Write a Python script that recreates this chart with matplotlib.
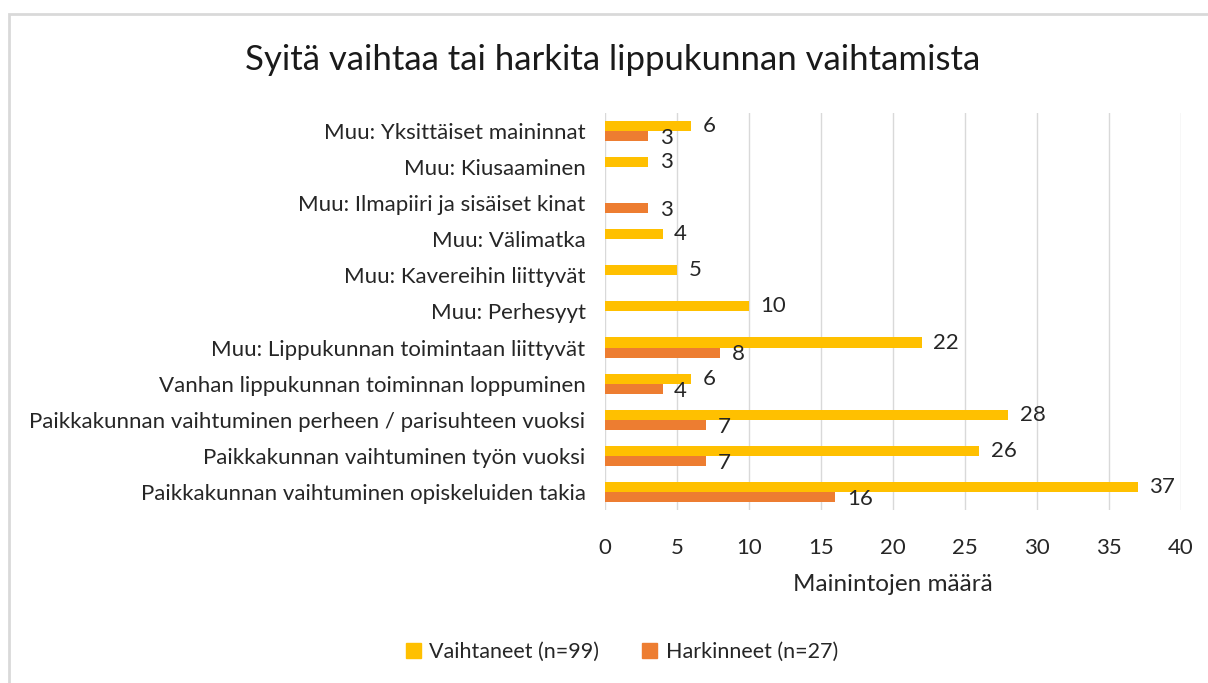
import matplotlib.pyplot as plt
import matplotlib.patches as mpatches
import numpy as np

plt.rcParams['font.family'] = ['Lato', 'DejaVu Sans']

categories = ['Muu: Yksittäiset maininnat',
              'Muu: Kiusaaminen',
              'Muu: Ilmapiiri ja sisäiset kinat',
              'Muu: Välimatka',
              'Muu: Kavereihin liittyvät',
              'Muu: Perhesyyt',
              'Muu: Lippukunnan toimintaan liittyvät',
              'Vanhan lippukunnan toiminnan loppuminen',
              'Paikkakunnan vaihtuminen perheen / parisuhteen vuoksi',
              'Paikkakunnan vaihtuminen työn vuoksi',
              'Paikkakunnan vaihtuminen opiskeluiden takia']
vaihtaneet = [6, 3, None, 4, 5, 10, 22, 6, 28, 26, 37]
harkinneet = [3, None, 3, None, None, None, 8, 4, 7, 7, 16]
xticks = [0, 5, 10, 15, 20, 25, 30, 35, 40]

yellow = '#FFC000'
orange = '#ED7D31'
txt = '#262626'

fig = plt.figure(figsize=(12.08, 6.83), dpi=100)
ax = fig.add_axes([0.5008, 0.2533, 0.4769, 0.5813])

n = len(categories)
ypos = np.arange(n)[::-1]
h = 0.28
v1 = np.array([np.nan if v is None else v for v in vaihtaneet], dtype=float)
v2 = np.array([np.nan if v is None else v for v in harkinneet], dtype=float)
ax.barh(ypos + h / 2, np.nan_to_num(v1), height=h, color=yellow, zorder=3)
ax.barh(ypos - h / 2, np.nan_to_num(v2), height=h, color=orange, zorder=3)

for y, a, b in zip(ypos, v1, v2):
    if not np.isnan(a):
        ax.text(a + 0.8, y + h / 2, '%d' % a, ha='left', va='center', fontsize=16, color=txt)
    if not np.isnan(b):
        ax.text(b + 0.8, y - h / 2 - 0.05, '%d' % b, ha='left', va='center', fontsize=16, color=txt)

ax.set_xlim(0, 40)
ax.set_ylim(-0.5, n - 0.5)
ax.set_xticks(xticks)
ax.set_yticks(ypos)
ax.set_yticklabels(categories)
ax.tick_params(axis='both', length=0, labelsize=16, labelcolor=txt)
ax.tick_params(axis='y', pad=14)
ax.tick_params(axis='x', pad=20)
ax.grid(axis='x', color='#D9D9D9', lw=1, zorder=0)
for s in ax.spines.values():
    s.set_visible(False)
ax.set_xlabel('Mainintojen määrä', fontsize=17.5, color=txt, labelpad=12)

fig.text(0.5075, 1 - 60 / 683, 'Syitä vaihtaa tai harkita lippukunnan vaihtamista',
         ha='center', va='center', fontsize=25, color='#1a1a1a')

handles = [mpatches.Patch(color=yellow, label='Vaihtaneet (n=99)'),
           mpatches.Patch(color=orange, label='Harkinneet (n=27)')]
fig.legend(handles=handles, loc='center', bbox_to_anchor=(622 / 1208, 1 - 652 / 683),
           ncol=2, frameon=False, fontsize=15.5, handlelength=0.7, handleheight=0.7,
           handletextpad=0.4, columnspacing=2.0, labelcolor=txt)

border = mpatches.Rectangle((9 / 1208, -0.1), 1.1, 1 - 14 / 683 + 0.1, transform=fig.transFigure,
                            fill=False, edgecolor='#D9D9D9', lw=2)
fig.patches.append(border)

fig.savefig('out.png', dpi=100)
